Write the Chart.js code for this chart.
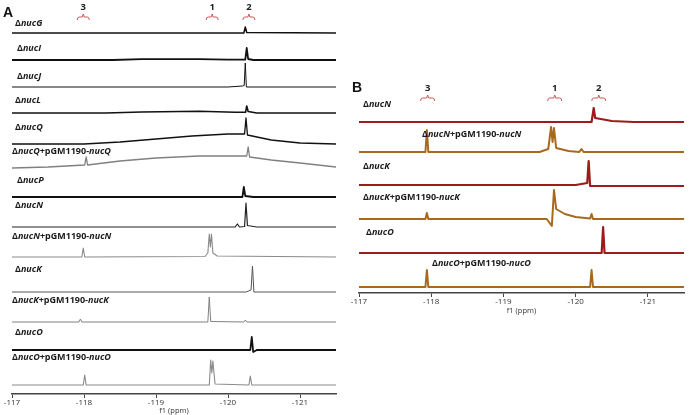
<!DOCTYPE html>
<html><head><meta charset="utf-8">
<script src="https://cdn.jsdelivr.net/npm/chart.js@4.4.0/dist/chart.umd.min.js"></script>
<style>
html,body{margin:0;padding:0;background:#fff;width:689px;height:415px;overflow:hidden}
.wrap{position:absolute}
.panel{position:absolute;font:bold 14px "Liberation Sans",Arial,sans-serif;color:#111;line-height:14px}
</style></head><body>
<div class="wrap" style="left:0;top:0;width:345px;height:415px"><canvas id="ca" width="345" height="415"></canvas></div>
<div class="wrap" style="left:345px;top:60px;width:344px;height:255px"><canvas id="cb" width="344" height="255"></canvas></div>
<div class="panel" style="left:3px;top:5px">A</div>
<div class="panel" style="left:352px;top:80px">B</div>
<script>
// ---------- DATA ----------
const ppmRange = [-121.5, -117];
const tickPpm = [-117, -118, -119, -120, -121];
const axisTitle = 'f1 (ppm)';

// signal markers
const markerNames = ['3', '1', '2'];
const markerPpmA = [-117.99, -119.78, -120.29];
const markerPpmB = [-117.95, -119.71, -120.32];

// Panel A spectra: [ppm, relative intensity]
const labelsA = ['ΔnucG','ΔnucI','ΔnucJ','ΔnucL','ΔnucQ','ΔnucQ+pGM1190-nucQ','ΔnucP','ΔnucN','ΔnucN+pGM1190-nucN','ΔnucK','ΔnucK+pGM1190-nucK','ΔnucO','ΔnucO+pGM1190-nucO'];
const aNucG = [[-117,0],[-118.5,0],[-120.22,0],[-120.24,6],[-120.26,0.5],[-121.5,0]];
const aNucI = [[-117,0],[-118.4,0],[-118.8,0.8],[-119.6,0.8],[-120.0,0.3],[-120.24,0.3],[-120.26,12],[-120.28,1],[-120.35,0],[-121.5,0]];
const aNucJ = [[-117,0],[-120.0,0],[-120.2,1],[-120.225,1.5],[-120.24,24],[-120.255,0],[-121.5,0]];
const aNucL = [[-117,0],[-118.3,0],[-118.8,1],[-119.6,1.8],[-120.1,0.8],[-120.245,0.8],[-120.26,7],[-120.28,1.5],[-120.4,0],[-121.5,0]];
const aNucQ = [[-117,0],[-118.0,0],[-118.5,2],[-119.0,5],[-119.5,8],[-120.0,10],[-120.23,10],[-120.25,26],[-120.27,9],[-120.6,4],[-121.0,1],[-121.5,0]];
const aNucQc = [[-117,0],[-117.5,1],[-118.01,3],[-118.03,11],[-118.05,3],[-118.5,7],[-119.0,10],[-119.6,12],[-120.0,12],[-120.26,12],[-120.28,21],[-120.3,11],[-120.6,8],[-121.0,5],[-121.5,1]];
const aNucP = [[-117,0],[-120.2,0],[-120.22,10],[-120.24,1],[-120.35,0],[-121.5,0]];
const aNucN = [[-117,0],[-120.1,0],[-120.13,3],[-120.16,0],[-120.23,0.5],[-120.25,24],[-120.27,1.5],[-120.4,0],[-121.5,0]];
const aNucNc = [[-117,0],[-117.97,0],[-117.99,9],[-118.01,0],[-119.68,0.5],[-119.72,4],[-119.74,23],[-119.755,10],[-119.77,23],[-119.79,4],[-119.85,1],[-121.5,0]];
const aNucK = [[-117,0],[-120.25,0],[-120.32,2],[-120.34,26],[-120.36,0],[-121.5,0]];
const aNucKc = [[-117,0],[-117.93,0],[-117.95,3],[-117.97,0],[-119.72,0],[-119.74,25],[-119.76,0.5],[-120.22,0],[-120.24,2],[-120.26,0],[-121.5,0]];
const aNucO = [[-117,0],[-120.31,0],[-120.33,13],[-120.35,-2],[-120.4,0],[-121.5,0]];
const aNucOc = [[-117,0],[-117.99,0],[-118.01,10],[-118.03,0],[-119.74,0],[-119.76,25],[-119.775,12],[-119.79,24],[-119.82,1],[-120.29,0],[-120.31,9],[-120.33,0],[-121.5,0]];
const spectraA = [aNucG,aNucI,aNucJ,aNucL,aNucQ,aNucQc,aNucP,aNucN,aNucNc,aNucK,aNucKc,aNucO,aNucOc];

// Panel B spectra
const labelsB = ['ΔnucN','ΔnucN+pGM1190-nucN','ΔnucK','ΔnucK+pGM1190-nucK','ΔnucO','ΔnucO+pGM1190-nucO'];
const bNucN = [[-117,0],[-120.22,0],[-120.25,14],[-120.27,4],[-120.5,1],[-120.8,0],[-121.5,0]];
const bNucNc = [[-117,0],[-117.92,0],[-117.94,22],[-117.96,0],[-119.5,0],[-119.62,3],[-119.66,25],[-119.68,10],[-119.70,24],[-119.73,4],[-119.9,1],[-120.05,0],[-120.08,3],[-120.11,0],[-121.5,0]];
const bNucK = [[-117,0],[-120.0,0],[-120.16,2],[-120.18,24],[-120.2,-1],[-120.4,-1],[-121.5,-1]];
const bNucKc = [[-117,0],[-117.92,0],[-117.94,6],[-117.96,0],[-119.6,0],[-119.67,-7],[-119.70,29],[-119.73,10],[-119.85,5],[-120.0,2],[-120.2,0.5],[-120.22,5],[-120.24,0],[-121.5,0]];
const bNucO = [[-117,0],[-120.36,0],[-120.38,26],[-120.40,0],[-121.5,0]];
const bNucOc = [[-117,0],[-117.92,0],[-117.94,17],[-117.96,0],[-120.20,0],[-120.22,17],[-120.24,0],[-121.5,0]];
const spectraB = [bNucN,bNucNc,bNucK,bNucKc,bNucO,bNucOc];

// ---------- LAYOUT / STYLE ----------
const layoutA = {
  areaBottom: 394, axisH: 21, pad: {left:12, right:9, top:0, bottom:0},
  rows:   [33,60,87,113,144,168,197,227,257,292,322,350,385],
  labelY: [23,48,76,100,127,151,180,205,236,269,300,332,357],
  labelX: [15,17,17,15,15,12,17,15,12,15,12,15,12],
  colors: ['#111','#111','#111','#111','#111','#808080','#111','#222','#8a8a8a','#555','#808080','#111','#8a8a8a'],
  widths: [1.5,1.8,1,1.6,1.3,1.3,1.8,1.2,1.1,1,1,1.8,1.1],
  markerNumY: 7, markerBrY: 17, markerW: 6
};
const layoutB = {
  areaBottom: 233, axisH: 22, pad: {left:14, right:5, top:0, bottom:0},
  rows:   [62,92,125,159,193,227],
  labelY: [44,74,106,137,172,203],
  labelX: [18,77,18,18,21,87],
  colors: ['#9b1c1c','#a8691f','#9b1c1c','#a8691f','#9b1c1c','#a8691f'],
  widths: [2.2,2,2.2,2,2.2,2],
  markerNumY: 28, markerBrY: 38, markerW: 7
};

const specPlugin = {
  id: 'spec',
  afterDatasetsDraw(chart) {
    const o = chart.options.plugins.spec;
    const L = o.layout, ctx = chart.ctx, xs = chart.scales.x;
    ctx.save();
    ctx.textBaseline = 'middle';
    ctx.fillStyle = '#1a1a1a';
    o.labels.forEach((lab, i) => {
      let x = L.labelX[i];
      lab.split(/(nuc[A-Z])/).filter(s => s).forEach(seg => {
        ctx.font = (/^nuc[A-Z]$/.test(seg) ? 'italic ' : '') + 'bold 9px "Open Sans"';
        ctx.fillText(seg, x, L.labelY[i]);
        x += ctx.measureText(seg).width;
      });
    });
    // markers
    o.markerPpm.forEach((p, i) => {
      const cx = xs.getPixelForValue(p), y = L.markerBrY, w = L.markerW;
      ctx.strokeStyle = '#d05555'; ctx.lineWidth = 1;
      ctx.beginPath();
      ctx.moveTo(cx - w, y + 3);
      ctx.quadraticCurveTo(cx - w, y, cx - w + 2, y);
      ctx.lineTo(cx - 1, y); ctx.lineTo(cx, y - 3); ctx.lineTo(cx + 1, y);
      ctx.lineTo(cx + w - 2, y);
      ctx.quadraticCurveTo(cx + w, y, cx + w, y + 3);
      ctx.stroke();
      ctx.font = 'bold 9.5px "Open Sans"'; ctx.textAlign = 'center'; ctx.fillStyle = '#222';
      ctx.fillText(markerNames[i], cx, L.markerNumY);
      ctx.textAlign = 'left'; ctx.fillStyle = '#1a1a1a';
    });
    ctx.restore();
  }
};

function makeChart(id, spectra, labels, L, markerPpm) {
  const datasets = spectra.map((s, i) => ({
    data: s.map(([p, v]) => ({x: p, y: (L.areaBottom - L.rows[i]) + v})),
    borderColor: L.colors[i], borderWidth: L.widths[i],
    pointRadius: 0, tension: 0, borderJoinStyle: 'round', fill: false
  }));
  return new Chart(document.getElementById(id), {
    type: 'line',
    data: {datasets},
    plugins: [specPlugin],
    options: {
      responsive: false, animation: false, events: [],
      layout: {padding: L.pad},
      plugins: {legend: {display: false}, tooltip: {enabled: false},
        spec: {layout: L, labels, markerPpm}},
      scales: {
        x: {
          type: 'linear', reverse: true, min: ppmRange[0], max: ppmRange[1],
          afterBuildTicks: s => { s.ticks = tickPpm.map(v => ({value: v})); },
          afterFit: s => { s.height = L.axisH; },
          ticks: {font: {size: 8, family: 'Open Sans'}, color: '#333', padding: 0, maxRotation: 0, autoSkip: false},
          grid: {display: true, drawOnChartArea: false, drawTicks: true, tickLength: 4, color: '#444', lineWidth: 1},
          border: {display: true, color: '#444', width: 1.5},
          title: {display: true, text: axisTitle, font: {size: 7.5, family: 'Open Sans'}, color: '#333', padding: {top: 0, bottom: 0}}
        },
        y: {display: false, min: 0, max: L.areaBottom}
      }
    }
  });
}
makeChart('ca', spectraA, labelsA, layoutA, markerPpmA);
makeChart('cb', spectraB, labelsB, layoutB, markerPpmB);
</script>
</body></html>
